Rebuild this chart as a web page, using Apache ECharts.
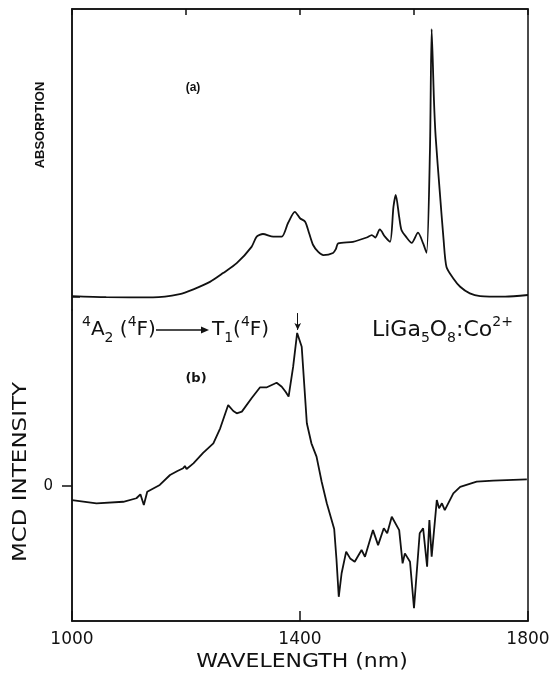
<!DOCTYPE html>
<html>
<head>
<meta charset="utf-8">
<script src="https://cdn.jsdelivr.net/npm/echarts@6/dist/echarts.min.js"></script>
<style>
	html, body { margin: 0; padding: 0; background: #fff; }
	#chart { width: 553px; height: 674px; }
</style>
</head>
<body>
<div id="chart"></div>
<script>
// (a) absorption, arbitrary units (baseline 0, main peak ~100)
var absWavelength = [1000, 1060, 1142, 1189, 1213, 1242, 1265, 1289, 1315, 1324, 1335, 1353, 1368, 1379, 1391, 1400, 1409, 1416, 1423, 1432, 1441, 1458, 1463, 1467, 1493, 1517, 1526, 1532, 1540, 1549, 1558, 1564, 1568, 1574, 1578, 1587, 1596, 1607, 1616, 1622, 1628, 1631, 1635, 1638, 1645, 1652, 1657, 1669, 1681, 1698, 1716, 1760, 1800];
var absValue = [0.2, -0.2, -0.3, 0.9, 2.7, 5.5, 8.8, 12.5, 18.6, 22.4, 23.4, 22.4, 22.4, 27.5, 31.7, 29.3, 28, 23.7, 19.3, 16.7, 15.5, 16.3, 17.8, 19.9, 20.5, 22.1, 23, 22.1, 25.1, 22.4, 20.5, 33.6, 38, 29.8, 24.9, 22.1, 20.1, 23.9, 19.9, 16.4, 54.8, 100, 73.5, 59.7, 39.8, 21, 11.1, 6.8, 3.7, 1.2, 0.2, 0, 0.6];

// (b) MCD intensity, arbitrary units (0 = zero line, peak at 1395 nm ~100)
var mcdWavelength = [1000, 1043, 1090, 1113, 1120, 1126, 1132, 1154, 1172, 1185, 1195, 1198, 1201, 1213, 1230, 1248, 1260, 1274, 1283, 1289, 1298, 1315, 1330, 1342, 1359, 1368, 1375, 1380, 1388, 1395, 1403, 1412, 1420, 1429, 1438, 1447, 1460, 1464, 1468, 1473, 1481, 1488, 1496, 1508, 1514, 1528, 1537, 1547, 1553, 1561, 1574, 1580, 1584, 1593, 1600, 1610, 1616, 1623, 1627, 1631, 1640, 1644, 1649, 1654, 1669, 1681, 1710, 1739, 1798];
var mcdValue = [-9.2, -11.3, -10.3, -8, -5.4, -12.4, -3.7, 0.7, 7.2, 9.8, 11.6, 13.1, 11.1, 14.8, 21.6, 27.9, 37.7, 52.9, 49, 47.5, 48.6, 57.3, 64.5, 64.5, 67.5, 64.9, 61.4, 58.4, 78, 100, 91, 41, 27.9, 19.2, 2.8, -11.3, -28.1, -48, -72.4, -57, -42.9, -47.3, -49.5, -41.8, -46.2, -28.8, -38.6, -27.6, -30.9, -20.1, -28.8, -50.5, -44, -49.5, -79.9, -30.9, -27.6, -52.7, -22.2, -46.2, -9.2, -14.6, -11.3, -15.7, -4.8, -0.5, 2.8, 3.5, 4.4];

var xTickLabels = [1000, 1400, 1800];

var ink = '#111';
var font = '"DejaVu Sans", sans-serif';

function pairs(xs, ys) {
	return xs.map(function (x, i) { return [x, ys[i]]; });
}

// rich text styles for the super/subscripts in the annotations
function richStyles(size) {
	return {
		n: { fontFamily: font, fontSize: size, lineHeight: 30, verticalAlign: 'middle', fill: ink },
		sup: { fontFamily: font, fontSize: 14, lineHeight: 13, verticalAlign: 'top', fill: ink },
		sub: { fontFamily: font, fontSize: 14, lineHeight: 13, verticalAlign: 'bottom', fill: ink }
	};
}

var chart = echarts.init(document.getElementById('chart'));

var frameLine = { show: true, onZero: false, lineStyle: { color: ink, width: 1.5 } };

chart.setOption({
	animation: false,
	backgroundColor: '#fff',
	grid: [
		{ left: 72, right: 25, top: 9, height: 301 },
		{ left: 72, right: 25, top: 310, height: 311 }
	],
	xAxis: [
		{
			gridIndex: 0, type: 'value', position: 'top', min: 1000, max: 1800, interval: 200,
			axisLine: frameLine,
			axisTick: { inside: true, length: 6, lineStyle: { color: ink, width: 1.5 } },
			axisLabel: { show: false }, splitLine: { show: false }
		},
		{
			gridIndex: 1, type: 'value', position: 'bottom', min: 1000, max: 1800, interval: 400,
			axisLine: frameLine,
			axisTick: { inside: true, length: 10, lineStyle: { color: ink, width: 1.5 } },
			axisLabel: {
				color: ink, fontFamily: font, fontSize: 17, margin: 10,
				customValues: xTickLabels,
				formatter: function (v) { return String(v); }
			},
			splitLine: { show: false }
		}
	],
	yAxis: [
		{
			gridIndex: 0, type: 'value', position: 'left', min: -5, max: 107.5,
			axisLine: frameLine,
			axisTick: { inside: true, length: 8, customValues: [0], lineStyle: { color: ink, width: 1.5 } },
			axisLabel: { show: false }, splitLine: { show: false }
		},
		{
			gridIndex: 1, type: 'value', position: 'left', min: -88.2, max: 115,
			axisLine: frameLine,
			axisTick: { length: 10, customValues: [0], lineStyle: { color: ink, width: 1.5 } },
			axisLabel: { customValues: [0], color: ink, fontFamily: font, fontSize: 15, margin: 19 },
			splitLine: { show: false }
		}
	],
	series: [
		{
			name: 'absorption', type: 'line', xAxisIndex: 0, yAxisIndex: 0,
			data: pairs(absWavelength, absValue),
			showSymbol: false, smooth: 0.25,
			lineStyle: { color: ink, width: 1.8 }
		},
		{
			name: 'mcd', type: 'line', xAxisIndex: 1, yAxisIndex: 1,
			data: pairs(mcdWavelength, mcdValue),
			showSymbol: false,
			lineStyle: { color: ink, width: 1.8 },
			markLine: {
				silent: true, symbol: ['none', 'arrow'], symbolSize: [5, 7],
				label: { show: false },
				lineStyle: { color: ink, width: 1, type: 'solid' },
				data: [[{ coord: [1396, 113] }, { coord: [1396, 102] }]]
			}
		}
	],
	graphic: [
		// outer frame round both panels
		{
			type: 'rect', shape: { x: 72, y: 9, width: 456, height: 612 },
			style: { fill: 'none', stroke: ink, lineWidth: 1.5 }
		},
		{
			type: 'text', x: 40, y: 125, rotation: Math.PI / 2,
			style: { text: 'ABSORPTION', font: 'bold 13px "Liberation Sans", sans-serif', fill: ink, align: 'center', verticalAlign: 'middle' }
		},
		{
			type: 'text', x: 21, y: 472, rotation: Math.PI / 2, scaleX: 1.15,
			style: { text: 'MCD INTENSITY', font: '20px ' + font, fill: ink, align: 'center', verticalAlign: 'middle' }
		},
		{
			type: 'text', x: 193, y: 88,
			style: { text: '(a)', font: 'bold 12px "Liberation Sans", sans-serif', fill: ink, align: 'center', verticalAlign: 'middle' }
		},
		{
			type: 'text', x: 196, y: 379,
			style: { text: '(b)', font: 'bold 13px ' + font, fill: ink, align: 'center', verticalAlign: 'middle' }
		},
		{
			type: 'text', x: 82, y: 330,
			style: {
				text: '{sup|4}{n|A}{sub|2}{n| (}{sup|4}{n|F)}',
				fill: ink, align: 'left', verticalAlign: 'middle', rich: richStyles(20)
			}
		},
		{
			type: 'line', shape: { x1: 156, y1: 330, x2: 202, y2: 330 },
			style: { stroke: ink, lineWidth: 1.5 }
		},
		{
			type: 'polygon', shape: { points: [[201, 326.5], [209, 330], [201, 333.5]] },
			style: { fill: ink }
		},
		{
			type: 'text', x: 212, y: 330,
			style: {
				text: '{n|T}{sub|1}{n|(}{sup|4}{n|F)}',
				fill: ink, align: 'left', verticalAlign: 'middle', rich: richStyles(20)
			}
		},
		{
			type: 'text', x: 372, y: 330,
			style: {
				text: '{n|LiGa}{sub|5}{n|O}{sub|8}{n|:Co}{sup|2+}',
				fill: ink, align: 'left', verticalAlign: 'middle', rich: richStyles(22)
			}
		},
		{
			type: 'text', x: 302, y: 662, scaleX: 1.1,
			style: { text: 'WAVELENGTH (nm)', font: '20px ' + font, fill: ink, align: 'center', verticalAlign: 'middle' }
		}
	]
});
</script>
</body>
</html>
